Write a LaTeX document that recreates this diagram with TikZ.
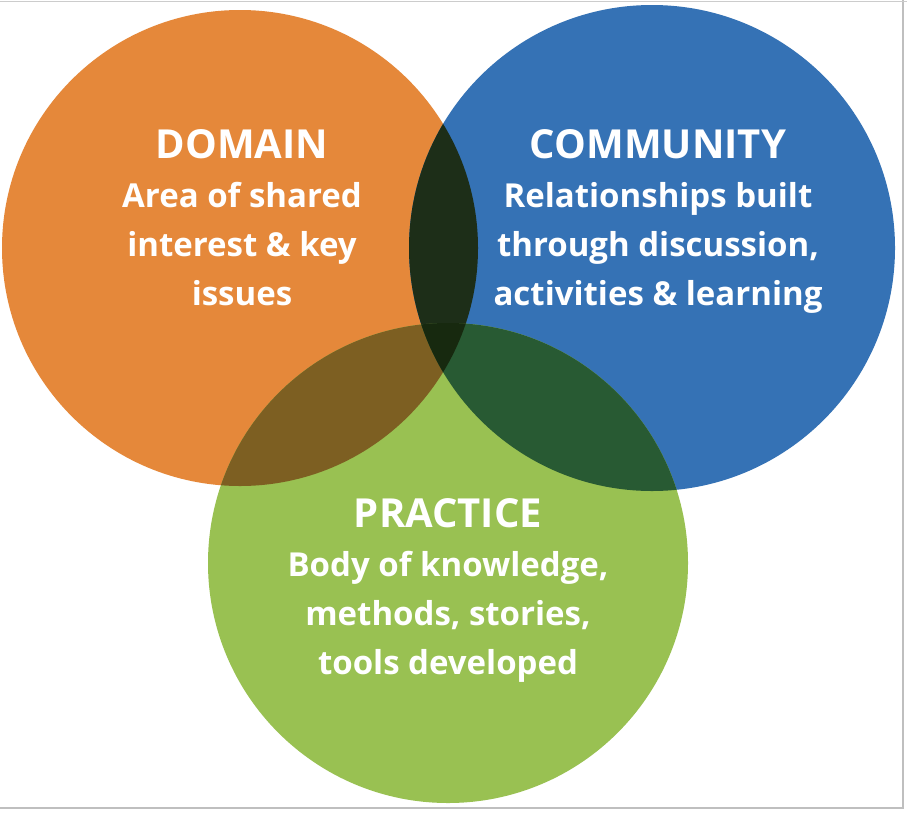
\documentclass[tikz,border=0pt]{standalone}
\usepackage{fontspec}
\setmainfont{Open Sans}[Ligatures=NoCommon]
\definecolor{cor}{HTML}{E5883A}
\definecolor{cbl}{HTML}{3572B5}
\definecolor{cgr}{HTML}{99C152}
\definecolor{cob}{HTML}{1D2E18}
\definecolor{cog}{HTML}{7D5F22}
\definecolor{cbg}{HTML}{285A33}
\definecolor{call}{HTML}{17290F}
\newcommand{\ttl}[1]{{\fontsize{40}{49}\selectfont #1}}
\begin{document}
\begin{tikzpicture}[x=1pt,y=-1pt,
  lbl/.style={text=white,font=\fontsize{33}{49}\selectfont\bfseries,align=center,anchor=north}]
\useasboundingbox (0,0) rectangle (907,814);
\fill[white] (0,0) rectangle (907,814);
\draw[gray!50,line width=2pt] (903,0) -- (903,808) -- (0,808);
\draw[gray!40,line width=1pt] (0,1) -- (907,1);
\coordinate (O) at (240,248);
\coordinate (B) at (652,248);
\coordinate (G) at (448,563);
\fill[cor] (O) circle (238);
\fill[cbl] (B) circle (243);
\fill[cgr] (G) circle (240);
\begin{scope}\clip (O) circle (238); \fill[cob] (B) circle (243);\end{scope}
\begin{scope}\clip (O) circle (238); \fill[cog] (G) circle (240);\end{scope}
\begin{scope}\clip (B) circle (243); \fill[cbg] (G) circle (240);\end{scope}
\begin{scope}\clip (O) circle (238); \clip (B) circle (243); \fill[call] (G) circle (240);\end{scope}
\node[lbl] (d) at (242,126) {\ttl{DOMAIN}\\Area of shared\\interest \& key\\issues};
\node[lbl] (c) at (658,126) {\ttl{COMMUNITY}\\Relationships built\\through discussion,\\activities \& learning};
\node[lbl] (p) at (448,495) {\ttl{PRACTICE}\\Body of knowledge,\\methods, stories,\\tools developed};
\end{tikzpicture}
\end{document}
